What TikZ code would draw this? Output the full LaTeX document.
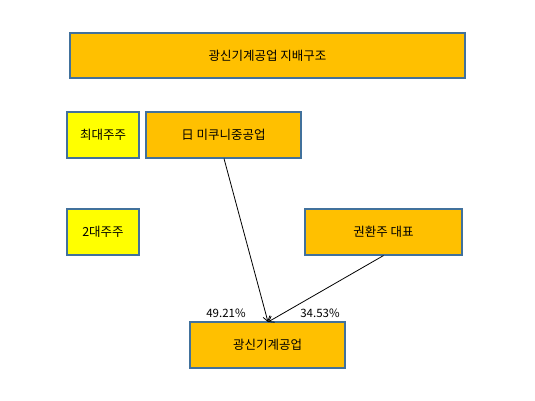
\documentclass[tikz,border=0pt]{standalone}
\usepackage{fontspec}
\setmainfont{Noto Sans CJK KR}
\usetikzlibrary{positioning}
\usetikzlibrary{arrows.meta}
\definecolor{boxorange}{HTML}{FFC000}
\definecolor{boxyellow}{HTML}{FFFF00}
\definecolor{boxline}{HTML}{41719C}
\tikzset{>={Straight Barb[length=5pt,width=7pt]}}
\tikzset{corp/.style={draw=boxline,line width=1.1pt,fill=boxorange,inner sep=0pt,font=\fontsize{12.5}{14}\selectfont}}
\tikzset{rank/.style={draw=boxline,line width=1.1pt,fill=boxyellow,inner sep=0pt,minimum width=72pt,minimum height=46pt,font=\fontsize{12.5}{14}\selectfont}}
\tikzset{pct/.style={inner sep=0pt,font=\fontsize{11.5}{13}\selectfont}}
\tikzset{share/.style={->,line width=0.8pt}}

\begin{document}
\begin{tikzpicture}[x=1pt,y=-1pt]
\useasboundingbox (0,0) rectangle (535,401);

\node[corp, minimum width=395pt, minimum height=45pt] (title) at (267.5, 55.5) {광신기계공업 지배구조};

\node[rank] (first) at (103, 135) {최대주주};
\node[corp, minimum width=155pt, minimum height=46pt] (mikuni) at (223.5, 135) {日 미쿠니중공업};

\node[rank] (second) at (103, 232) {2대주주};
\node[corp, minimum width=157pt, minimum height=46pt] (kwon) at (383.5, 232) {권환주 대표};

\node[corp, minimum width=155pt, minimum height=46pt] (target) at (267.5, 345) {광신기계공업};

\coordinate (tip) at (268, 322);
\draw[share] ([xshift=0.5pt]mikuni.south) -- (tip);
\draw[share] (kwon.south) -- (tip);

\node[pct] (p1) at (226, 313) {49.21\%};
\node[pct] (p2) at (320, 313) {34.53\%};

\end{tikzpicture}
\end{document}
